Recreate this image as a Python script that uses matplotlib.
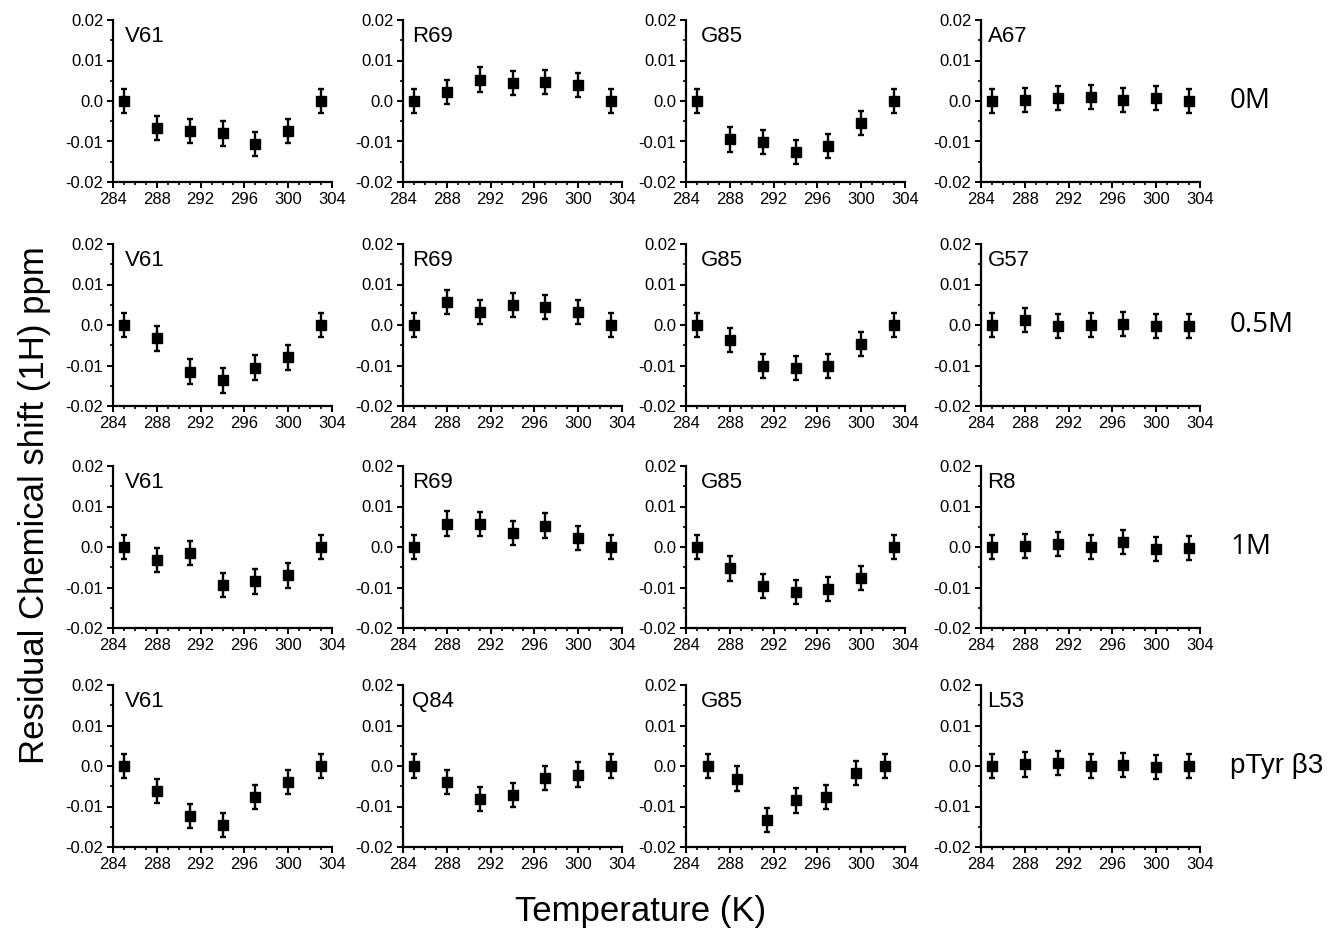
#!/usr/bin/env python
import numpy as np
import matplotlib
matplotlib.use('Agg')
import matplotlib.pyplot as plt
from matplotlib.ticker import MultipleLocator

plt.rcParams['font.family'] = ['Liberation Sans', 'DejaVu Sans']

# temperatures (K)
temps = [285, 288, 291, 294, 297, 300, 303]
temps_g85_ptyr = [286.0, 288.7, 291.4, 294.0, 296.8, 299.5, 302.2]

conditions = ['0M', '0.5M', '1M', 'pTyr \u03b23']
residues = [['V61', 'R69', 'G85', 'A67'],
            ['V61', 'R69', 'G85', 'G57'],
            ['V61', 'R69', 'G85', 'R8'],
            ['V61', 'Q84', 'G85', 'L53']]

# residual 1H chemical shift (ppm)
v61_0m = [0.0, -0.0066, -0.0074, -0.0080, -0.0107, -0.0074, 0.0]
r69_0m = [0.0, 0.0022, 0.0053, 0.0045, 0.0047, 0.0039, 0.0]
g85_0m = [0.0, -0.0095, -0.0101, -0.0126, -0.0111, -0.0055, 0.0]
a67_0m = [0.0, 0.0002, 0.0007, 0.0010, 0.0002, 0.0007, 0.0]

v61_05m = [0.0, -0.0033, -0.0115, -0.0137, -0.0105, -0.0080, 0.0]
r69_05m = [0.0, 0.0057, 0.0032, 0.0050, 0.0045, 0.0032, 0.0]
g85_05m = [0.0, -0.0037, -0.0102, -0.0107, -0.0102, -0.0047, 0.0]
g57_05m = [0.0, 0.0012, -0.0003, 0.0, 0.0002, -0.0003, -0.0002]

v61_1m = [0.0, -0.0032, -0.0015, -0.0094, -0.0085, -0.0070, 0.0]
r69_1m = [0.0, 0.0058, 0.0056, 0.0034, 0.0053, 0.0022, 0.0]
g85_1m = [0.0, -0.0053, -0.0097, -0.0111, -0.0104, -0.0077, 0.0]
r8_1m = [0.0, 0.0003, 0.0007, 0.0, 0.0012, -0.0005, -0.0002]

v61_ptyr = [0.0, -0.0062, -0.0124, -0.0145, -0.0076, -0.0040, 0.0]
q84_ptyr = [0.0, -0.0040, -0.0081, -0.0071, -0.0030, -0.0021, 0.0]
g85_ptyr = [0.0, -0.0031, -0.0134, -0.0085, -0.0076, -0.0018, 0.0]
l53_ptyr = [0.0, 0.0004, 0.0008, 0.0, 0.0003, -0.0003, 0.0]

shift_err = 0.003

shifts = [[v61_0m, r69_0m, g85_0m, a67_0m],
          [v61_05m, r69_05m, g85_05m, g57_05m],
          [v61_1m, r69_1m, g85_1m, r8_1m],
          [v61_ptyr, q84_ptyr, g85_ptyr, l53_ptyr]]

W, H = 1340, 935
fig = plt.figure(figsize=(W/100, H/100), dpi=100)

lefts = [113, 403, 686, 981]
tops = [20, 244, 466, 685]
aw, ah = 219, 162
lab_x = [0.055, 0.04, 0.07, 0.03]

for r in range(4):
    for c in range(4):
        ax = fig.add_axes([lefts[c]/W, 1 - (tops[r] + ah)/H, aw/W, ah/H])
        x = temps_g85_ptyr if (r == 3 and c == 2) else temps
        ax.errorbar(x, shifts[r][c], yerr=shift_err, fmt='s', color='black',
                    ms=7, elinewidth=1.7, capsize=2.5, capthick=1.7)
        ax.set_xlim(284, 304)
        ax.set_ylim(-0.02, 0.02)
        ax.xaxis.set_major_locator(MultipleLocator(4))
        ax.xaxis.set_minor_locator(MultipleLocator(1))
        ax.yaxis.set_minor_locator(MultipleLocator(0.005))
        ax.set_yticks([-0.02, -0.01, 0.0, 0.01, 0.02])
        ax.set_yticklabels(['-0.02', '-0.01', '0.0', '0.01', '0.02'])
        ax.spines['top'].set_visible(False)
        ax.spines['right'].set_visible(False)
        ax.spines['left'].set_linewidth(1.6)
        ax.spines['bottom'].set_linewidth(1.6)
        ax.tick_params(which='major', direction='out', length=4, width=1.4,
                       labelsize=12, pad=3)
        ax.tick_params(which='minor', direction='out', length=2.5, width=1.2)
        ax.text(lab_x[c], 0.96, residues[r][c], transform=ax.transAxes,
                ha='left', va='top', fontsize=16)
    fam = ['Open Sans', 'DejaVu Sans'] if r < 3 else ['Liberation Sans', 'DejaVu Sans']
    fig.text(1230/W, 1 - (tops[r] + ah/2)/H, conditions[r], ha='left',
             va='center', fontsize=20, family=fam)

fig.text(0.026, 0.46, 'Residual Chemical shift (1H) ppm', rotation=90,
         ha='center', va='center', fontsize=25)
fig.text(0.478, 0.025, 'Temperature (K)', ha='center', va='center', fontsize=25)

plt.savefig('out.png', dpi=100)
